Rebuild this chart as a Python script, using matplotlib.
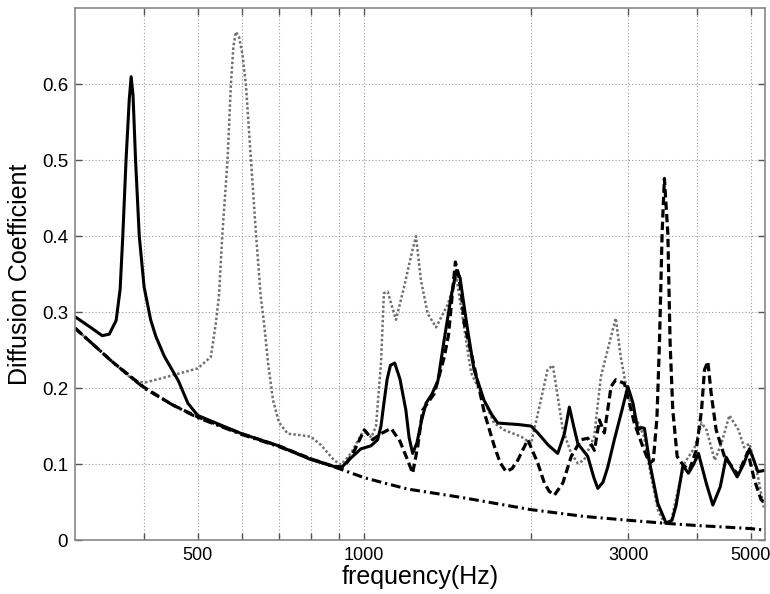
import matplotlib
matplotlib.use("Agg")
import matplotlib.pyplot as plt
from matplotlib.ticker import FixedLocator, NullFormatter

# ---- data ----
f_base = [300, 350, 400, 450, 500, 600, 700, 800, 900, 1000, 1100, 1200, 1500, 2000,
          2500, 3000, 3500, 4000, 4500, 5000, 5300]
v_base = [0.279, 0.235, 0.200, 0.178, 0.161, 0.139, 0.123, 0.107, 0.094, 0.082, 0.074,
          0.067, 0.056, 0.040, 0.031, 0.026, 0.022, 0.019, 0.017, 0.015, 0.013]

f_solid = [300, 320, 336, 346, 356, 362, 366, 371, 376, 379, 382, 386, 392, 400, 411, 420,
           435, 461, 480, 500, 600, 700, 800, 880, 908, 946, 986, 1028, 1057, 1072, 1085,
           1100, 1115, 1135, 1160, 1189, 1205, 1223, 1245, 1270, 1293, 1325, 1359, 1394,
           1435, 1467, 1490, 1510, 1538, 1579, 1646, 1700, 1743, 1817, 1900, 2002, 2059,
           2150, 2237, 2300, 2348, 2390, 2432, 2535, 2600, 2643, 2700, 2755, 2831, 2920,
           2995, 3060, 3122, 3170, 3209, 3277, 3393, 3513, 3600, 3662, 3720, 3766, 3854,
           3940, 4018, 4150, 4266, 4400, 4509, 4620, 4720, 4850, 4968, 5060, 5145, 5327]
v_solid = [0.294, 0.280, 0.269, 0.271, 0.289, 0.330, 0.400, 0.500, 0.580, 0.610, 0.585,
           0.500, 0.400, 0.333, 0.290, 0.268, 0.242, 0.210, 0.180, 0.164, 0.140, 0.124,
           0.106, 0.097, 0.095, 0.108, 0.120, 0.124, 0.132, 0.150, 0.180, 0.212, 0.230,
           0.233, 0.212, 0.171, 0.135, 0.114, 0.128, 0.158, 0.180, 0.192, 0.210, 0.263,
           0.320, 0.355, 0.345, 0.315, 0.276, 0.224, 0.184, 0.165, 0.154, 0.153, 0.152,
           0.150, 0.141, 0.125, 0.114, 0.140, 0.175, 0.150, 0.127, 0.110, 0.082, 0.068,
           0.076, 0.096, 0.132, 0.170, 0.202, 0.180, 0.145, 0.148, 0.147, 0.103, 0.048,
           0.022, 0.026, 0.046, 0.075, 0.098, 0.088, 0.100, 0.114, 0.075, 0.046, 0.070,
           0.109, 0.095, 0.083, 0.100, 0.120, 0.105, 0.090, 0.092]

f_dash = [300, 350, 400, 450, 500, 600, 700, 800, 880, 920, 960, 1000, 1035, 1072, 1118,
          1160, 1198, 1223, 1249, 1275, 1339, 1395, 1420, 1445, 1461, 1480, 1500, 1516,
          1581, 1649, 1719, 1760, 1804, 1850, 1894, 1975, 2059, 2116, 2160, 2206, 2285,
          2366, 2465, 2535, 2606, 2661, 2716, 2793, 2848, 2953, 3077, 3187, 3277, 3330,
          3380, 3416, 3454, 3487, 3537, 3571, 3611, 3677, 3766, 3870, 3980, 4070, 4120,
          4178, 4236, 4325, 4477, 4733, 4934, 5072, 5215, 5327]
v_dash = [0.279, 0.235, 0.201, 0.178, 0.162, 0.140, 0.124, 0.107, 0.097, 0.096, 0.118,
          0.145, 0.132, 0.140, 0.147, 0.130, 0.105, 0.088, 0.123, 0.171, 0.193, 0.241,
          0.270, 0.330, 0.366, 0.350, 0.320, 0.285, 0.228, 0.167, 0.123, 0.102, 0.090,
          0.094, 0.105, 0.132, 0.101, 0.075, 0.064, 0.059, 0.075, 0.110, 0.132, 0.134,
          0.118, 0.158, 0.141, 0.202, 0.211, 0.206, 0.154, 0.123, 0.101, 0.105, 0.160,
          0.259, 0.404, 0.476, 0.404, 0.259, 0.171, 0.110, 0.099, 0.092, 0.118, 0.171,
          0.224, 0.235, 0.193, 0.145, 0.110, 0.086, 0.116, 0.079, 0.053, 0.048]

f_dot = [300, 350, 383, 400, 441, 500, 528, 539, 546, 554, 566, 574, 580, 586, 594, 602,
         611, 624, 637, 650, 659, 670, 684, 701, 727, 768, 801, 835, 882, 908, 946, 986,
         1000, 1030, 1050, 1072, 1085, 1102, 1141, 1180, 1214, 1240, 1266, 1302, 1348,
         1415, 1467, 1560, 1625, 1716, 1788, 1922, 2002, 2085, 2144, 2192, 2238, 2285,
         2366, 2432, 2495, 2603, 2677, 2790, 2848, 2908, 2990, 3070, 3205, 3300, 3395,
         3490, 3590, 3690, 3790, 3955, 4070, 4155, 4300, 4420, 4570, 4745, 4860, 4965,
         5150, 5270]
v_dot = [0.279, 0.235, 0.210, 0.207, 0.215, 0.226, 0.241, 0.285, 0.320, 0.403, 0.500,
         0.600, 0.650, 0.669, 0.662, 0.640, 0.600, 0.500, 0.404, 0.320, 0.285, 0.233,
         0.184, 0.155, 0.140, 0.138, 0.136, 0.125, 0.105, 0.099, 0.114, 0.138, 0.145,
         0.135, 0.150, 0.233, 0.325, 0.327, 0.290, 0.333, 0.373, 0.400, 0.342, 0.298,
         0.280, 0.310, 0.346, 0.220, 0.193, 0.154, 0.145, 0.136, 0.127, 0.184, 0.224,
         0.230, 0.188, 0.145, 0.114, 0.101, 0.105, 0.136, 0.215, 0.267, 0.292, 0.241,
         0.193, 0.167, 0.136, 0.083, 0.039, 0.022, 0.026, 0.066, 0.101, 0.122, 0.154,
         0.145, 0.105, 0.127, 0.164, 0.145, 0.122, 0.127, 0.083, 0.043]

major_ticks = [500, 1000, 3000, 5000]
minor_ticks = [400, 600, 700, 800, 900, 2000, 4000]
y_ticks = [0, 0.1, 0.2, 0.3, 0.4, 0.5, 0.6]

plt.rcParams['font.family'] = ['Liberation Sans', 'DejaVu Sans']

fig = plt.figure(figsize=(7.70, 5.94), dpi=100)
ax = fig.add_axes([0.0974, 0.0909, 0.8961, 0.8951])

kw = dict(solid_joinstyle='round', dash_joinstyle='round')
ax.plot(f_dot, v_dot, color='#707070', lw=1.8, linestyle=(0, (1.0, 0.9)), **kw)
ax.plot(f_base, v_base, color='black', lw=2.2, linestyle=(0, (3.2, 1.3, 0.7, 1.3)), **kw)
ax.plot(f_dash, v_dash, color='black', lw=2.3, linestyle=(0, (2.6, 1.3)), **kw)
ax.plot(f_solid, v_solid, color='black', lw=2.2, **kw)

ax.set_xscale('log')
ax.set_xlim(300, 5300)
ax.set_ylim(0, 0.7)

ax.xaxis.set_major_locator(FixedLocator(major_ticks))
ax.xaxis.set_minor_locator(FixedLocator(minor_ticks))
ax.set_xticklabels([str(t) for t in major_ticks])
ax.xaxis.set_minor_formatter(NullFormatter())
ax.set_yticks(y_ticks)
ax.set_yticklabels(['0', '0.1', '0.2', '0.3', '0.4', '0.5', '0.6'])

ax.grid(True, which='both', axis='x', color='#9a9a9a', linestyle=(0, (1, 2)), lw=0.8)
ax.grid(True, which='major', axis='y', color='#9a9a9a', linestyle=(0, (1, 2)), lw=0.8)

ax.tick_params(which='both', direction='in', top=True, right=True,
               color='#555555', width=1.0)
ax.tick_params(axis='x', labelsize=13)
ax.tick_params(axis='y', labelsize=13.5)
ax.tick_params(which='major', length=5, pad=5)
ax.tick_params(which='minor', length=5)
for s in ax.spines.values():
    s.set_color('#888888')
    s.set_linewidth(1.2)

ax.set_xlabel('frequency(Hz)', fontsize=18, labelpad=1)
ax.set_ylabel('Diffusion Coefficient', fontsize=18, labelpad=7)

fig.savefig('out.png', dpi=100)
